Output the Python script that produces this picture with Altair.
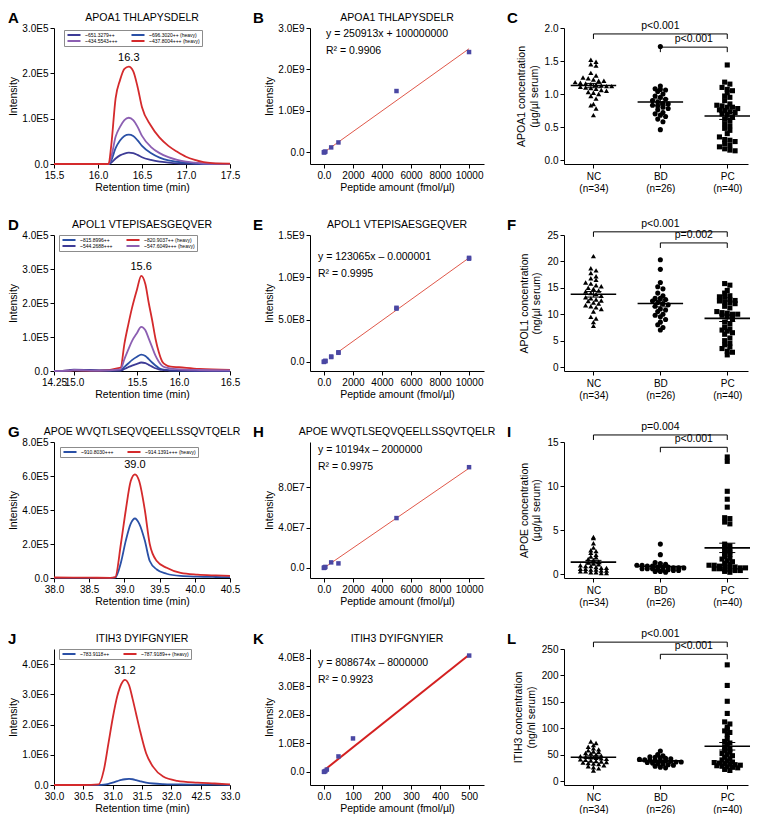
import altair as alt
import pandas as pd

FONT = "Liberation Sans"

# ================= Column 1: chromatograms =================
A_TITLE = "APOA1 THLAPYSDELR"
A_TIME = [15.5, 16.0, 16.12, 16.15, 16.2, 16.25, 16.3, 16.35, 16.4, 16.45, 16.5, 16.6, 16.7, 16.8, 16.9, 17.0, 17.1, 17.2, 17.3, 17.5]
A_NAMES = ["~651.3279++", "~696.3020++ (heavy)", "~434.5543+++", "~437.8004+++ (heavy)"]
A_COLORS = ["#3d3b96", "#2a50a6", "#8c5fb2", "#d42a2c"]
A_UNIT = 1e5
A_S1 = [0, 0, 0, 0.03, 0.12, 0.19, 0.23, 0.25, 0.24, 0.2, 0.15, 0.09, 0.05, 0.03, 0.015, 0.008, 0.004, 0, 0, 0]
A_S2 = [0, 0, 0, 0.08, 0.35, 0.52, 0.62, 0.65, 0.62, 0.52, 0.4, 0.24, 0.14, 0.08, 0.05, 0.03, 0.015, 0.005, 0, 0]
A_S3 = [0, 0, 0, 0.15, 0.6, 0.82, 0.97, 1.02, 0.97, 0.82, 0.62, 0.38, 0.24, 0.15, 0.09, 0.05, 0.03, 0.01, 0.005, 0]
A_S4 = [0, 0, 0, 0.4, 1.45, 1.85, 2.1, 2.15, 2.05, 1.7, 1.25, 0.85, 0.58, 0.4, 0.27, 0.16, 0.09, 0.04, 0.02, 0.01]
A_XTICKS = [15.5, 16.0, 16.5, 17.0, 17.5]
A_XLABELS = ["15.5", "16.0", "16.5", "17.0", "17.5"]
A_YTICKS = [0, 1e5, 2e5, 3e5]
A_YLABELS = ["0.0", "1.0E5", "2.0E5", "3.0E5"]
A_PEAK = [16.35, 2.15, "16.3"]

D_TITLE = "APOL1 VTEPISAESGEQVER"
D_TIME = [14.25, 14.8, 15.0, 15.2, 15.37, 15.4, 15.43, 15.46, 15.5, 15.55, 15.6, 15.64, 15.68, 15.72, 15.76, 15.8, 15.85, 15.9, 16.0, 16.2, 16.5]
D_NAMES = ["~815.8996++", "~820.9037++ (heavy)", "~544.2688+++", "~547.6049+++ (heavy)"]
D_COLORS = ["#2a50a6", "#d42a2c", "#3d3b96", "#8c5fb2"]
D_UNIT = 1e5
D_S1 = [0, 0.01, 0.02, 0.01, 0.02, 0.12, 0.22, 0.32, 0.42, 0.48, 0.44, 0.35, 0.25, 0.16, 0.09, 0.05, 0.03, 0.02, 0.01, 0.01, 0]
D_S2 = [0, 0.01, 0.02, 0.01, 0.1, 0.8, 1.35, 1.85, 2.4, 2.8, 2.55, 2.0, 1.5, 0.95, 0.55, 0.28, 0.17, 0.13, 0.11, 0.06, 0.03]
D_S3 = [0, 0.02, 0.04, 0.02, 0.01, 0.06, 0.11, 0.16, 0.21, 0.25, 0.23, 0.18, 0.13, 0.08, 0.05, 0.03, 0.02, 0.01, 0.01, 0, 0]
D_S4 = [0, 0.01, 0.03, 0.01, 0.05, 0.35, 0.62, 0.88, 1.12, 1.3, 1.2, 0.95, 0.7, 0.45, 0.27, 0.15, 0.1, 0.07, 0.05, 0.03, 0.02]
D_XTICKS = [14.25, 15.0, 15.5, 16.0, 16.5]
D_XLABELS = ["14.25", "15.0", "15.5", "16.0", "16.5"]
D_YTICKS = [0, 1e5, 2e5, 3e5, 4e5]
D_YLABELS = ["0.0", "1.0E5", "2.0E5", "3.0E5", "4.0E5"]
D_PEAK = [15.55, 2.8, "15.6"]

G_TITLE = "APOE WVQTLSEQVQEELLSSQVTQELR"
G_TIME = [38.0, 38.5, 38.8, 38.87, 38.95, 39.02, 39.09, 39.15, 39.21, 39.29, 39.36, 39.46, 39.6, 39.8, 40.04, 40.3, 40.5]
G_NAMES = ["~910.8030+++", "~914.1391+++ (heavy)"]
G_COLORS = ["#2a50a6", "#d42a2c"]
G_UNIT = 1e5
G_S1 = [0.01, 0.01, 0, 0.02, 0.9, 2.2, 3.2, 3.5, 3.2, 2.2, 1.0, 0.5, 0.25, 0.12, 0.08, 0.06, 0.05]
G_S2 = [0.03, 0.02, 0.01, 0.05, 2.0, 4.0, 5.7, 6.1, 5.7, 4.0, 2.0, 1.0, 0.6, 0.3, 0.2, 0.15, 0.12]
G_XTICKS = [38.0, 38.5, 39.0, 39.5, 40.0, 40.5]
G_XLABELS = ["38.0", "38.5", "39.0", "39.5", "40.0", "40.5"]
G_YTICKS = [0, 2e5, 4e5, 6e5, 8e5]
G_YLABELS = ["0.0", "2.0E5", "4.0E5", "6.0E5", "8.0E5"]
G_PEAK = [39.15, 6.1, "39.0"]

J_TITLE = "ITIH3 DYIFGNYIER"
J_TIME = [30.0, 30.5, 30.76, 30.85, 30.93, 31.0, 31.08, 31.15, 31.21, 31.28, 31.34, 31.4, 31.46, 31.57, 31.69, 31.86, 32.1, 32.45, 32.74, 33.0]
J_NAMES = ["~783.9118++", "~787.9189++ (heavy)"]
J_COLORS = ["#2a50a6", "#d42a2c"]
J_UNIT = 1e6
J_S1 = [0, 0, 0, 0.01, 0.04, 0.08, 0.13, 0.17, 0.19, 0.2, 0.19, 0.16, 0.13, 0.08, 0.05, 0.03, 0.02, 0.01, 0.01, 0]
J_S2 = [0, 0, 0.02, 0.5, 1.4, 2.2, 2.95, 3.35, 3.48, 3.3, 2.85, 2.35, 1.85, 1.05, 0.6, 0.28, 0.14, 0.08, 0.05, 0.02]
J_XTICKS = [30.0, 30.5, 31.0, 31.5, 32.0, 32.5, 33.0]
J_XLABELS = ["30.0", "30.5", "31.0", "31.5", "32.0", "42.5", "33.0"]
J_YTICKS = [0, 1e6, 2e6, 3e6, 4e6]
J_YLABELS = ["0.0", "1.0E6", "2.0E6", "3.0E6", "4.0E6"]
J_PEAK = [31.21, 3.48, "31.2"]

# ================= Column 2: calibration curves =================
CAL_XTICKS = [0, 2000, 4000, 6000, 8000, 10000]
CAL_XLABELS = ["0.0", "2000", "4000", "6000", "8000", "10000"]

B_X = [0, 10, 50, 100, 500, 1000, 5000, 10000]
B_Y = [0, 5e6, 1e7, 2e7, 1.2e8, 2.4e8, 1.48e9, 2.42e9]
B_FIT_X = [0, 10000]
B_FIT_Y = [0, 2.5e9]
B_EQ = ["y = 250913x + 100000000", "R² = 0.9906"]
B_YTICKS = [0, 1e9, 2e9, 3e9]
B_YLABELS = ["0.0", "1.0E9", "2.0E9", "3.0E9"]

E_X = [0, 0, 100, 100, 500, 500, 1000, 1000, 5000, 5000, 10000, 10000]
E_Y = [0, 4e6, 8e6, 1.4e7, 5.8e7, 6.4e7, 1.08e8, 1.14e8, 6.3e8, 6.4e8, 1.22e9, 1.23e9]
E_FIT_X = [1000, 10000]
E_FIT_Y = [1.2e8, 1.23e9]
E_EQ = ["y = 123065x – 0.000001", "R² = 0.9995"]
E_YTICKS = [0, 5e8, 1e9, 1.5e9]
E_YLABELS = ["0.0", "5.0E8", "1.0E9", "1.5E9"]

H_X = [0, 10, 50, 100, 500, 1000, 5000, 10000]
H_Y = [0, 2e5, 5e5, 1e6, 5.5e6, 4.5e6, 4.95e7, 1.0e8]
H_FIT_X = [0, 10000]
H_FIT_Y = [0, 9.9e7]
H_EQ = ["y = 10194x – 2000000", "R² = 0.9975"]
H_YTICKS = [0, 4e7, 8e7]
H_YLABELS = ["0.0", "4.0E7", "8.0E7"]

K_X = [0, 1, 5, 10, 50, 100, 500]
K_Y = [0, 2e5, 3e6, 8e6, 5.4e7, 1.17e8, 4.07e8]
K_FIT_X = [0, 500]
K_FIT_Y = [5e6, 4.1e8]
K_EQ = ["y = 808674x – 8000000", "R² = 0.9923"]
K_XTICKS = [0, 100, 200, 300, 400, 500]
K_XLABELS = ["0.0", "100", "200", "300", "400", "500"]
K_YTICKS = [0, 1e8, 2e8, 3e8, 4e8]
K_YLABELS = ["0.0", "1.0E8", "2.0E8", "3.0E8", "4.0E8"]

# ================= Column 3: serum concentrations =================
GROUPS = ["NC", "BD", "PC"]
GROUP_N = [34, 26, 40]
GROUP_SHAPES = ["triangle-up", "circle", "square"]

C_NC = [1.52, 1.49, 1.45, 1.43, 1.32, 1.28, 1.25, 1.24, 1.22, 1.20, 1.20, 1.18, 1.17, 1.16, 1.15, 1.14, 1.13,
        1.12, 1.12, 1.11, 1.10, 1.09, 1.08, 1.06, 1.05, 1.03, 1.02, 1.00, 0.97, 0.93, 0.85, 0.83, 0.78, 0.68]
C_BD = [1.72, 1.12, 1.08, 1.07, 1.06, 1.04, 1.00, 0.97, 0.95, 0.92, 0.90, 0.88, 0.86, 0.85, 0.83, 0.82, 0.80,
        0.78, 0.76, 0.72, 0.70, 0.68, 0.66, 0.62, 0.58, 0.46]
C_PC = [1.44, 1.18, 1.15, 1.10, 1.07, 1.05, 1.02, 0.97, 0.95, 0.90, 0.85, 0.83, 0.82, 0.80, 0.80, 0.78, 0.76,
        0.75, 0.73, 0.72, 0.70, 0.68, 0.65, 0.62, 0.60, 0.55, 0.52, 0.48, 0.45, 0.40, 0.35, 0.31, 0.30, 0.28,
        0.25, 0.22, 0.20, 0.17, 0.15, 0.14]
C_YTITLE = ["APOA1 concentration", "(µg/µl serum)"]
C_YTICKS = [0, 0.5, 1.0, 1.5, 2.0]
C_YLABELS = ["0.0", "0.5", "1.0", "1.5", "2.0"]
C_BRK_FROM = [0, 1]
C_BRK_TO = [2, 2]
C_BRK_Y = [1.91, 1.71]
C_BRK_TEXT = ["p<0.001", "p<0.001"]

F_NC = [21.0, 18.7, 18.3, 17.8, 17.2, 16.8, 16.5, 16.0, 15.8, 15.5, 15.3, 15.0, 14.8, 14.5, 14.3, 14.0, 13.8,
        13.5, 13.2, 13.0, 12.8, 12.5, 12.2, 12.0, 11.7, 11.5, 11.3, 11.0, 10.5, 9.5, 9.2, 8.5, 7.8, 12.6]
F_BD = [20.3, 18.5, 16.0, 15.2, 14.8, 14.0, 13.5, 13.0, 13.0, 12.8, 12.5, 12.2, 12.0, 11.8, 11.5, 11.0, 10.8,
        10.5, 10.0, 9.8, 9.5, 9.0, 8.5, 8.0, 7.5, 7.0]
F_PC = [15.8, 15.5, 14.5, 14.0, 13.5, 13.3, 13.2, 12.8, 12.6, 12.5, 12.3, 12.2, 12.0, 11.5, 11.2, 10.5, 10.3,
        10.2, 10.0, 10.0, 9.8, 9.5, 9.2, 8.5, 8.2, 7.5, 7.2, 7.0, 6.8, 6.5, 6.2, 5.5, 5.0, 4.5, 4.2, 3.8, 3.5,
        3.0, 2.8, 2.3]
F_YTITLE = ["APOL1 concentration", "(ng/µl serum)"]
F_YTICKS = [0, 5, 10, 15, 20, 25]
F_YLABELS = ["0", "5", "10", "15", "20", "25"]
F_BRK_FROM = [0, 1]
F_BRK_TO = [2, 2]
F_BRK_Y = [25.6, 23.5]
F_BRK_TEXT = ["p<0.001", "p=0.002"]

I_NC = [4.2, 4.1, 3.5, 3.0, 2.7, 2.6, 2.4, 2.2, 2.0, 1.9, 1.7, 1.6, 1.4, 1.3, 1.2, 1.1, 1.0, 0.9, 0.9, 0.8,
        0.7, 0.7, 0.6, 0.6, 0.5, 0.5, 0.4, 0.4, 0.3, 0.3, 0.2, 0.2, 0.1, 0.1]
I_BD = [3.4, 2.2, 1.3, 1.2, 1.1, 1.0, 1.0, 0.9, 0.9, 0.8, 0.8, 0.8, 0.7, 0.7, 0.7, 0.6, 0.6, 0.6, 0.5, 0.5,
        0.5, 0.4, 0.4, 0.3, 0.3, 0.2]
I_PC = [13.3, 12.8, 9.4, 8.5, 7.6, 6.4, 6.3, 5.9, 5.7, 3.4, 3.2, 3.0, 2.8, 2.6, 2.5, 2.3, 2.2, 2.0, 1.8, 1.7,
        1.5, 1.4, 1.2, 1.1, 1.0, 1.0, 0.9, 0.9, 0.8, 0.8, 0.7, 0.7, 0.6, 0.6, 0.5, 0.5, 0.4, 0.4, 0.3, 0.2]
I_YTITLE = ["APOE concentration", "(µg/µl serum)"]
I_YTICKS = [0, 5, 10, 15]
I_YLABELS = ["0", "5", "10", "15"]
I_BRK_FROM = [0, 1]
I_BRK_TO = [2, 2]
I_BRK_Y = [15.8, 14.4]
I_BRK_TEXT = ["p=0.004", "p<0.001"]

L_NC = [75, 72, 68, 65, 62, 60, 58, 56, 55, 53, 52, 50, 48, 47, 46, 45, 44, 43, 42, 41, 40, 39, 38, 37, 36,
        35, 34, 33, 32, 30, 28, 26, 24, 20]
L_BD = [57, 50, 48, 46, 45, 44, 43, 42, 41, 40, 40, 39, 38, 38, 37, 36, 36, 35, 34, 33, 32, 31, 30, 28, 26, 25]
L_PC = [220, 181, 151, 128, 112, 108, 102, 98, 95, 92, 88, 80, 75, 72, 70, 65, 60, 58, 55, 52, 50, 48, 45,
        42, 40, 38, 36, 35, 34, 33, 32, 31, 30, 29, 28, 27, 26, 25, 22, 20]
L_YTITLE = ["ITIH3 concentration", "(ng/nl serum)"]
L_YTICKS = [0, 50, 100, 150, 200, 250]
L_YLABELS = ["0", "50", "100", "150", "200", "250"]
L_BRK_FROM = [0, 1]
L_BRK_TO = [2, 2]
L_BRK_Y = [263, 240]
L_BRK_TEXT = ["p<0.001", "p<0.001"]

# ================= layout =================
W1, W2, W3, H = 176, 174, 184, 136


def label_expr(values, labels):
    expr = "''"
    for v, lab in reversed(list(zip(values, labels))):
        if isinstance(lab, list):
            s = "[" + ",".join("'%s'" % t for t in lab) + "]"
        else:
            s = "'%s'" % lab
        expr = "datum.value == %r ? %s : %s" % (float(v), s, expr)
    return expr


def axis(ticks, labels, title, **kw):
    return alt.Axis(values=ticks, labelExpr=label_expr(ticks, labels), title=title,
                    labelFlush=False, labelOverlap=False, **kw)


def letter_mark(ch, dx):
    return alt.Chart(pd.DataFrame({"L": [ch]})).mark_text(
        align="left", baseline="top", fontSize=15, fontWeight="bold", font=FONT
    ).encode(x=alt.value(dx), y=alt.value(-17), text="L:N")


def title_mark(title, w):
    return alt.Chart(pd.DataFrame({"T": [title]})).mark_text(
        align="center", baseline="middle", fontSize=10.5, font=FONT
    ).encode(x=alt.value(w / 2), y=alt.value(-10), text="T:N")


def chrom(letter, title, field, time, names, colors, series, unit, xscale, xt, xl,
          ydom, yt, yl, peak, lx, ly):
    rows = []
    for name, vals in zip(names, series):
        for t, v in zip(time, vals):
            rows.append({"t": t, field: name, "I": v * unit})
    df = pd.DataFrame(rows)
    X = alt.X("t:Q", scale=xscale, axis=axis(xt, xl, "Retention time (min)", titlePadding=2))
    Y = alt.Y("I:Q", scale=alt.Scale(domain=ydom, nice=False, zero=False), axis=axis(yt, yl, "Intensity"))
    lines = alt.Chart(df).mark_line(strokeWidth=1.8, interpolate="monotone").encode(
        x=X, y=Y,
        color=alt.Color(f"{field}:N", scale=alt.Scale(domain=names, range=colors),
                        legend=alt.Legend(title=None, orient="none", legendX=lx, legendY=ly,
                                          direction="horizontal", columns=2, labelFontSize=5,
                                          labelFont=FONT, symbolType="stroke", symbolStrokeWidth=2.2,
                                          symbolSize=170, clipHeight=6, strokeColor="#8c8c8c",
                                          fillColor="white", padding=2, rowPadding=0,
                                          columnPadding=12, labelOffset=3, labelLimit=120)),
    )
    pk = alt.Chart(pd.DataFrame({"t": [peak[0]], "I": [peak[1] * unit], "lab": [peak[2]]})).mark_text(
        baseline="bottom", dy=-4, fontSize=11, font=FONT).encode(x=X, y=Y, text="lab:N")
    return alt.layer(lines, pk, title_mark(title, W1), letter_mark(letter, -46)).properties(
        width=W1, height=H)


def calib(letter, title, px, py, fx, fy, eq, xdom, xt, xl, ydom, yt, yl, eqx, eqy, lw, lc):
    X = alt.X("x:Q", scale=alt.Scale(domain=xdom, nice=False, zero=False),
              axis=axis(xt, xl, "Peptide amount (fmol/µl)", titlePadding=2))
    Y = alt.Y("y:Q", scale=alt.Scale(domain=ydom, nice=False, zero=False), axis=axis(yt, yl, "Intensity"))
    fit = alt.Chart(pd.DataFrame({"x": fx, "y": fy})).mark_line(color=lc, strokeWidth=lw).encode(x=X, y=Y)
    pts = alt.Chart(pd.DataFrame({"x": px, "y": py})).mark_square(size=20, color="#4a47a3", opacity=1).encode(x=X, y=Y)
    t1 = alt.Chart(pd.DataFrame({"s": [eq[0]]})).mark_text(align="left", baseline="middle", fontSize=10.5, font=FONT).encode(
        x=alt.value(eqx), y=alt.value(eqy), text="s:N")
    t2 = alt.Chart(pd.DataFrame({"s": [eq[1]]})).mark_text(align="left", baseline="middle", fontSize=10.5, font=FONT).encode(
        x=alt.value(eqx), y=alt.value(eqy + 17), text="s:N")
    return alt.layer(fit, pts, t1, t2, title_mark(title, W2), letter_mark(letter, -57)).properties(
        width=W2, height=H)


def dotplot(letter, groups_vals, ytitle, ydom, yt, yl, binw, bfrom, bto, by, btext):
    rows = []
    for gi, vals in enumerate(groups_vals):
        for v in vals:
            rows.append({"g": GROUPS[gi], "gi": gi, "v": v})
    df = pd.DataFrame(rows)
    xs = alt.Scale(domain=[-0.44, 2.31], nice=False, zero=False)
    ys = alt.Scale(domain=ydom, nice=False, zero=False)
    xlabels = [[g, "(n=%d)" % n] for g, n in zip(GROUPS, GROUP_N)]

    def X(f):
        return alt.X(f"{f}:Q", scale=xs, axis=axis([0, 1, 2], xlabels, None, labelLineHeight=12, labelPadding=3))

    def Y(f):
        return alt.Y(f"{f}:Q", scale=ys, axis=axis(yt, yl, ytitle, titlePadding=5))

    S = 0.078
    pts = alt.Chart(df).transform_calculate(
        b=f"floor(datum.v / {binw})"
    ).transform_joinaggregate(
        n="count()", groupby=["gi", "b"]
    ).transform_window(
        r="row_number()", groupby=["gi", "b"], sort=[alt.SortField("v", order="descending")]
    ).transform_calculate(
        xp=f"datum.gi + (datum.r - (datum.n + 1) / 2) * {S}"
    ).mark_point(filled=True, opacity=1, color="black", size=26).encode(
        x=X("xp"), y=Y("v"),
        shape=alt.Shape("g:N", scale=alt.Scale(domain=GROUPS, range=GROUP_SHAPES), legend=None),
    )
    agg = alt.Chart(df).transform_aggregate(
        m="mean(v)", se="stderr(v)", groupby=["gi"]
    ).transform_calculate(
        xl="datum.gi - 0.34", xr="datum.gi + 0.34", cl="datum.gi - 0.12", cr="datum.gi + 0.12",
        lo="datum.m - datum.se", hi="datum.m + datum.se",
    )
    mean = agg.mark_rule(color="black", strokeWidth=1.6).encode(x=X("xl"), x2="xr:Q", y=Y("m"))
    sem = agg.mark_rule(color="black", strokeWidth=1).encode(x=X("gi"), y=Y("lo"), y2="hi:Q")
    cap1 = agg.mark_rule(color="black", strokeWidth=1).encode(x=X("cl"), x2="cr:Q", y=Y("lo"))
    cap2 = agg.mark_rule(color="black", strokeWidth=1).encode(x=X("cl"), x2="cr:Q", y=Y("hi"))

    bdf = pd.DataFrame({"x1": bfrom, "x2": bto, "y": by, "txt": btext})
    ends = pd.DataFrame({"xe": bfrom + bto, "y": by + by})
    bar = alt.Chart(bdf).mark_rule(color="black", strokeWidth=1).encode(x=X("x1"), x2="x2:Q", y=Y("y"))
    drops = alt.Chart(ends).mark_rule(color="black", strokeWidth=1, y2Offset=5).encode(
        x=X("xe"), y=Y("y"), y2="y:Q")
    btxt = alt.Chart(bdf).transform_calculate(xm="(datum.x1 + datum.x2) / 2").mark_text(
        baseline="bottom", dy=-3, fontSize=10.5, font=FONT).encode(x=X("xm"), y=Y("y"), text="txt:N")
    return alt.layer(pts, mean, sem, cap1, cap2, bar, drops, btxt, letter_mark(letter, -57)).properties(
        width=W3, height=H)


lin = lambda d: alt.Scale(domain=d, nice=False, zero=False)
CAL_XDOM = [-960, 11030]

pA = chrom("A", A_TITLE, "sA", A_TIME, A_NAMES, A_COLORS, [A_S1, A_S2, A_S3, A_S4], A_UNIT,
           lin([15.5, 17.5]), A_XTICKS, A_XLABELS, [0, 3e5], A_YTICKS, A_YLABELS, A_PEAK, 10, 2)
pD = chrom("D", D_TITLE, "sD", D_TIME, D_NAMES, D_COLORS, [D_S1, D_S2, D_S3, D_S4], D_UNIT,
           alt.Scale(domain=D_XTICKS, range=[0, 20, 83, 125, 176], nice=False, zero=False),
           D_XTICKS, D_XLABELS, [0, 4e5], D_YTICKS, D_YLABELS, D_PEAK, 5, 0)
pG = chrom("G", G_TITLE, "sG", G_TIME, G_NAMES, G_COLORS, [G_S1, G_S2], G_UNIT,
           lin([38.0, 40.5]), G_XTICKS, G_XLABELS, [0, 8e5], G_YTICKS, G_YLABELS, G_PEAK, 6, 5)
pJ = chrom("J", J_TITLE, "sJ", J_TIME, J_NAMES, J_COLORS, [J_S1, J_S2], J_UNIT,
           lin([30.0, 33.0]), J_XTICKS, J_XLABELS, [0, 4.5e6], J_YTICKS, J_YLABELS, J_PEAK, 5, 0)

pB = calib("B", A_TITLE, B_X, B_Y, B_FIT_X, B_FIT_Y, B_EQ, CAL_XDOM, CAL_XTICKS, CAL_XLABELS,
           [-0.28e9, 3.0e9], B_YTICKS, B_YLABELS, 16, 6, 1, "#e0584a")
pE = calib("E", D_TITLE, E_X, E_Y, E_FIT_X, E_FIT_Y, E_EQ, CAL_XDOM, CAL_XTICKS, CAL_XLABELS,
           [-0.107e9, 1.5e9], E_YTICKS, E_YLABELS, 8, 22, 1, "#e0584a")
pH = calib("H", G_TITLE, H_X, H_Y, H_FIT_X, H_FIT_Y, H_EQ, CAL_XDOM, CAL_XTICKS, CAL_XLABELS,
           [-1.0e7, 1.25e8], H_YTICKS, H_YLABELS, 8, 8, 1, "#e0584a")
pK = calib("K", J_TITLE, K_X, K_Y, K_FIT_X, K_FIT_Y, K_EQ, [-48, 551], K_XTICKS, K_XLABELS,
           [-0.46e8, 4.3e8], K_YTICKS, K_YLABELS, 8, 14, 2, "#d42020")

pC = dotplot("C", [C_NC, C_BD, C_PC], C_YTITLE, [-0.06, 2.0], C_YTICKS, C_YLABELS, 0.07,
             C_BRK_FROM, C_BRK_TO, C_BRK_Y, C_BRK_TEXT)
pF = dotplot("F", [F_NC, F_BD, F_PC], F_YTITLE, [-0.75, 25], F_YTICKS, F_YLABELS, 0.9,
             F_BRK_FROM, F_BRK_TO, F_BRK_Y, F_BRK_TEXT)
pI = dotplot("I", [I_NC, I_BD, I_PC], I_YTITLE, [-0.45, 15], I_YTICKS, I_YLABELS, 0.35,
             I_BRK_FROM, I_BRK_TO, I_BRK_Y, I_BRK_TEXT)
pL = dotplot("L", [L_NC, L_BD, L_PC], L_YTITLE, [-7.5, 250], L_YTICKS, L_YLABELS, 6,
             L_BRK_FROM, L_BRK_TO, L_BRK_Y, L_BRK_TEXT)

chart = alt.concat(
    pA, pB, pC, pD, pE, pF, pG, pH, pI, pJ, pK, pL,
    columns=3, spacing={"row": 71, "column": 80}, bounds="flush",
).resolve_scale(
    x="independent", y="independent", color="independent", shape="independent"
).properties(
    padding={"left": 0, "top": 3, "right": 0, "bottom": 0}
).configure(
    font=FONT
).configure_axis(
    domainColor="black", tickColor="black", labelColor="black", titleColor="black",
    labelFont=FONT, titleFont=FONT, labelFontSize=10, titleFontSize=10.5, titleFontWeight="normal",
    grid=False, tickSize=4, domainWidth=1, tickWidth=1, labelPadding=2, titlePadding=3,
).configure_view(
    stroke=None
)

chart.save("out.html", embed_options={"renderer": "svg", "actions": False})
